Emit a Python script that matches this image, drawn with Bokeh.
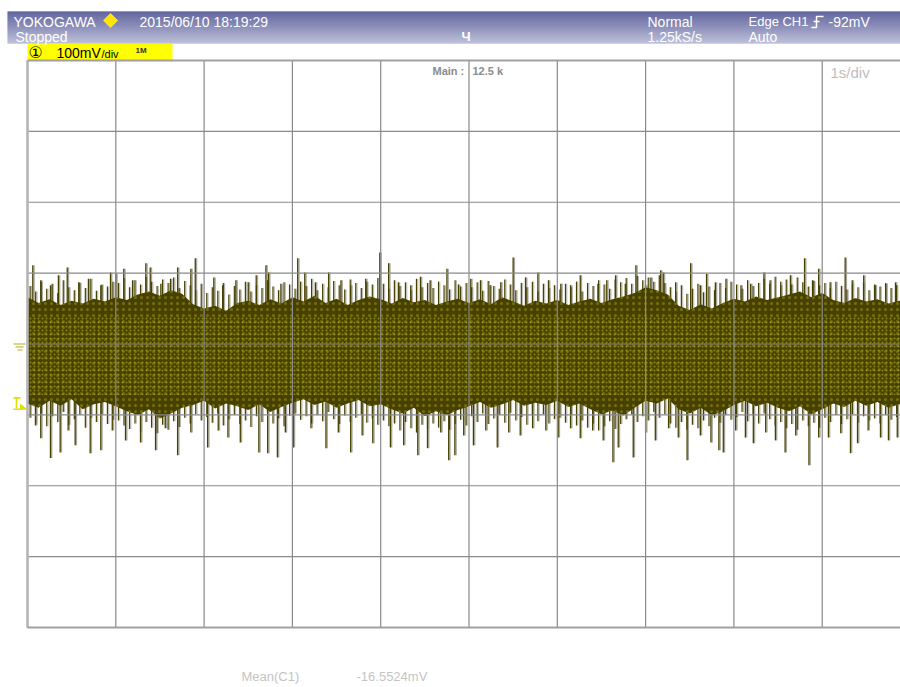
import numpy as np
from bokeh.plotting import figure
from bokeh.models import Label
from bokeh.embed import file_html
from bokeh.resources import INLINE

# ---------------- acquisition ----------------
MV_PER_DIV = 100.0
SEC_PER_DIV = 1.0
H_DIVS = 10
V_DIVS = 8
MEAN_MV = -16.5524
TRIG_LEVEL_MV = -92.0

grid_t = [0, 1, 2, 3, 4, 5, 6, 7, 8, 9, 10]
grid_v = [-400, -300, -200, -100, 0, 100, 200, 300, 400]

# dense body of the noise trace, sampled every 0.125 s (mV)
core_t = [i * 0.125 for i in range(81)]
core_hi = [66, 58, 63, 55, 61, 57, 64,
           60, 66, 62, 70, 74, 68, 76, 71,
           56, 50, 54, 47, 58,
           61, 55, 63, 57, 66,
           60, 68, 58, 64, 55, 62, 67,
           63, 57, 65, 59, 62, 55, 60, 64,
           58, 63, 56, 66, 60, 54, 61,
           57, 62, 55, 60, 64, 58, 63, 67,
           72, 80, 76, 70,
           54, 48, 56, 50, 58,
           64, 60, 67, 62, 66,
           70, 74, 66, 72,
           62, 58, 65, 60, 63, 57, 61, 60]
core_lo = [-84, -90, -80, -87, -78, -92, -85,
           -82, -88, -95, -100, -92, -105, -98, -90,
           -86, -80, -91, -84, -88,
           -93, -85, -96, -89, -83,
           -78, -86, -81, -90, -84, -79, -88,
           -85, -92, -98, -90, -102, -95, -100, -93,
           -88, -82, -90, -85, -79, -87, -83,
           -86, -80, -89, -84, -92, -99, -94, -101,
           -90, -80, -84, -77,
           -92, -98, -90, -101, -95,
           -86, -80, -88, -83, -90,
           -95, -88, -99, -92,
           -84, -89, -80, -87, -82, -90, -85, -88]

# short excursions just beyond the body, every 0.0625 s (mV)
grass_t = [0.03 + k * 0.0625 for k in range(158)]
grass_up = [82, 74, 88, 78, 85, 72, 90, 80, 76, 86, 79, 92, 75, 84, 81, 88,
            86, 93, 80, 90, 84, 95, 88, 82, 91, 86, 94, 79, 89, 83, 76, 85,
            72, 80, 75, 86, 70, 82, 77, 88, 74, 83, 79, 90, 81, 76, 87, 84,
            78, 88, 82, 92, 76, 85, 80, 89, 83, 77, 91, 86, 79, 88, 84, 93,
            85, 78, 90, 82, 87, 76, 92, 80, 86, 79, 88, 83, 77, 90, 81, 86,
            80, 87, 75, 89, 82, 78, 91, 84, 76, 86, 80, 88, 74, 85, 79, 83,
            77, 85, 80, 88, 74, 86, 82, 90, 84, 78, 91, 87, 93, 85, 96, 90,
            94, 88, 97, 86, 80, 74, 83, 71, 78, 85, 73, 81, 76, 86, 79, 88,
            84, 78, 90, 82, 86, 92, 85, 95, 88, 91, 84, 94, 87, 81, 89, 83,
            86, 79, 88, 82, 77, 85, 80, 87, 76, 84, 81, 86, 79, 83]
grass_dn = [-104, -112, -98, -116, -102, -110, -96, -114, -106, -100, -118, -104, -110, -99, -113, -107,
            -108, -115, -120, -112, -124, -110, -118, -126, -114, -121, -109, -117, -104, -112, -99, -108,
            -103, -111, -98, -115, -106, -100, -113, -108, -117, -102, -110, -97, -112, -105, -116, -101,
            -98, -107, -102, -112, -100, -109, -96, -106, -113, -101, -110, -104, -99, -111, -105, -114,
            -108, -116, -112, -122, -110, -119, -125, -114, -120, -112, -118, -109, -121, -113, -107, -115,
            -102, -110, -98, -113, -105, -100, -111, -97, -108, -103, -114, -101, -109, -99, -112, -106,
            -104, -111, -100, -115, -108, -118, -112, -122, -116, -109, -120, -113, -106, -99, -110, -102,
            -108, -96, -104, -99, -112, -118, -110, -121, -114, -119, -108, -116, -104, -111, -100, -107,
            -103, -96, -109, -101, -112, -98, -106, -115, -110, -119, -113, -121, -108, -116, -111, -118,
            -104, -110, -100, -113, -106, -99, -111, -102, -108, -105, -112, -100, -107, -103]

# positive noise peaks (s, mV)
spike_up_t = [0.06, 0.15, 0.26, 0.35, 0.45, 0.58, 0.69, 0.83, 0.94, 1.00, 1.09, 1.19,
              1.34, 1.39, 1.51, 1.62, 1.70, 1.85, 1.90, 2.11, 2.21, 2.36, 2.50, 2.59,
              2.70, 2.73, 2.87, 3.06, 3.14, 3.26, 3.41, 3.55, 3.66, 3.83, 3.99, 4.09,
              4.20, 4.34, 4.45, 4.56, 4.75, 4.88, 5.02, 5.13, 5.24, 5.36, 5.50, 5.64,
              5.78, 5.90, 6.04, 6.15, 6.26, 6.46, 6.56, 6.66, 6.77, 6.89, 7.00, 7.06,
              7.17, 7.20, 7.34, 7.51, 7.62, 7.69, 7.79, 7.91, 8.08, 8.19, 8.34, 8.41,
              8.53, 8.64, 8.80, 8.89, 8.96, 9.09, 9.26, 9.34, 9.47, 9.60, 9.72, 9.83]
spike_up_v = [111, 90, 83, 97, 108, 87, 92, 83, 101, 99, 106, 90,
              114, 108, 85, 92, 108, 106, 121, 94, 83, 90, 87, 97,
              111, 101, 85, 121, 101, 87, 101, 90, 83, 92, 129, 114,
              87, 83, 95, 90, 106, 84, 92, 90, 83, 87, 122, 94,
              101, 90, 85, 83, 97, 85, 90, 97, 85, 111, 83, 94,
              104, 101, 87, 114, 83, 99, 87, 92, 83, 85, 101, 90,
              83, 97, 121, 90, 106, 87, 122, 90, 97, 83, 85, 87]

# negative noise peaks (s, mV)
spike_dn_t = [0.09, 0.15, 0.26, 0.37, 0.46, 0.54, 0.71, 0.83, 0.96, 1.11, 1.28, 1.45,
              1.56, 1.70, 1.85, 2.04, 2.16, 2.27, 2.41, 2.62, 2.72, 2.83, 2.92, 3.01,
              3.21, 3.38, 3.52, 3.66, 3.79, 3.91, 4.11, 4.26, 4.42, 4.53, 4.68, 4.77,
              4.84, 4.94, 5.05, 5.19, 5.32, 5.45, 5.58, 5.72, 5.87, 6.01, 6.15, 6.26,
              6.40, 6.52, 6.63, 6.69, 6.86, 7.00, 7.11, 7.26, 7.37, 7.47, 7.62, 7.74,
              7.83, 7.88, 8.02, 8.13, 8.22, 8.36, 8.47, 8.58, 8.70, 8.85, 8.96, 9.07,
              9.21, 9.32, 9.40, 9.52, 9.66, 9.75, 9.85]
spike_dn_v = [-115, -133, -161, -153, -122, -143, -154, -150, -122, -136, -139, -150,
              -119, -157, -125, -146, -122, -132, -139, -153, -154, -160, -125, -146,
              -119, -147, -125, -153, -129, -140, -146, -143, -157, -147, -125, -164,
              -157, -129, -143, -122, -146, -125, -129, -119, -122, -132, -119, -133,
              -122, -136, -167, -146, -160, -125, -136, -119, -132, -164, -129, -139,
              -150, -153, -122, -132, -140, -125, -136, -153, -129, -171, -132, -132,
              -126, -154, -140, -122, -132, -136, -132]

SPECKLE_HI, SPECKLE_LO = 40, -72

# ---------------- screen layout (px) ----------------
W, H = 900, 687
LEFT_PX, TOP_PX = 27, 60
DIV_W_PX = 88.3
DIV_H_PX = 70.875
CENTER_PX = TOP_PX + V_DIVS / 2 * DIV_H_PX
PX_T = SEC_PER_DIV / DIV_W_PX   # seconds per screen pixel


def sx(px):
    return (px - LEFT_PX) / DIV_W_PX * SEC_PER_DIV


def sy(py):
    return (CENTER_PX - py) / DIV_H_PX * MV_PER_DIV


OLIVE = "#474100"
GREY_SPIKE = "#a6a69c"
GRID = "#8a8a8a"

p = figure(width=W, height=H, output_backend="svg", toolbar_location=None,
           x_range=(sx(0), sx(W)), y_range=(sy(H), sy(0)),
           min_border=0, min_border_left=0, min_border_right=0,
           min_border_top=0, min_border_bottom=0)
p.axis.visible = False
p.grid.visible = False
p.outline_line_color = None
p.background_fill_color = "white"
p.border_fill_color = "white"

# ---- header bar with vertical gradient ----
top_rgb = np.array([48, 52, 126])
bot_rgb = np.array([166, 169, 204])
rows = 32
lefts, rights, tops, bottoms, cols = [], [], [], [], []
for k in range(rows):
    f = k / (rows - 1)
    c = (top_rgb * (1 - f) + bot_rgb * f).astype(int)
    lefts.append(sx(7))
    rights.append(sx(W))
    tops.append(sy(11 + k))
    bottoms.append(sy(12 + k))
    cols.append("#%02x%02x%02x" % tuple(c))
p.quad(left=lefts, right=rights, top=tops, bottom=bottoms, fill_color=cols, line_color=None)


def label(px, py, text, color="white", size="14px", style="normal", font="Liberation Sans"):
    p.add_layout(Label(x=sx(px), y=sy(py), text=text, text_color=color, text_font=font,
                       text_font_size=size, text_font_style=style, text_baseline="top",
                       text_align="left"))


label(13, 13, "YOKOGAWA")
p.scatter(x=[sx(110)], y=[sy(20)], marker="square", angle=np.pi / 4, size=10,
          fill_color="#ffe600", line_color="#ffe600")
label(139, 13, "2015/06/10 18:19:29")
label(15, 28, "Stopped")
label(461, 28, "Ч", size="13px", style="bold")
label(647, 13, "Normal")
label(647, 28, "1.25kS/s")
label(748, 13, "Edge CH1", size="13px")
label(828, 13, "-92mV")
label(748, 28, "Auto")
# rising-edge trigger glyph
p.multi_line(xs=[[sx(811), sx(816), sx(816), sx(823)], [sx(813), sx(819)]],
             ys=[[sy(27), sy(27), sy(16), sy(16)], [sy(21), sy(21)]],
             line_color="white", line_width=1.5)

# channel badge
p.quad(left=[sx(27)], right=[sx(172)], top=[sy(43.5)], bottom=[sy(59.5)],
       fill_color="#ffff00", line_color=None)
label(28, 42, "①", color="black", size="16px", font="DejaVu Sans")
label(56, 44, "100mV", color="black", size="14px")
label(101, 47, "/div", color="black", size="11px")
label(135, 45, "1M", color="#333333", size="8px", style="bold")

# ---- trace ----
n_up, n_dn, n_g = len(spike_up_t), len(spike_dn_t), len(grass_t)
shift = 1.3 * PX_T
# light companions of the strokes
p.segment(x0=[t + shift for t in grass_t], y0=[MEAN_MV] * n_g,
          x1=[t + shift for t in grass_t], y1=grass_up,
          line_color=GREY_SPIKE, line_width=1.1, line_alpha=0.8)
p.segment(x0=[t + shift for t in grass_t], y0=[MEAN_MV] * n_g,
          x1=[t + shift for t in grass_t], y1=grass_dn,
          line_color=GREY_SPIKE, line_width=1.1, line_alpha=0.8)
p.segment(x0=[t + shift for t in spike_up_t], y0=[MEAN_MV] * n_up,
          x1=[t + shift for t in spike_up_t], y1=spike_up_v,
          line_color=GREY_SPIKE, line_width=1.3)
p.segment(x0=[t + shift for t in spike_dn_t], y0=[MEAN_MV] * n_dn,
          x1=[t + shift for t in spike_dn_t], y1=spike_dn_v,
          line_color=GREY_SPIKE, line_width=1.3)
# dark strokes
p.segment(x0=grass_t, y0=[MEAN_MV] * n_g, x1=grass_t, y1=grass_up,
          line_color=OLIVE, line_width=1.2)
p.segment(x0=grass_t, y0=[MEAN_MV] * n_g, x1=grass_t, y1=grass_dn,
          line_color=OLIVE, line_width=1.2)
p.segment(x0=spike_up_t, y0=[MEAN_MV] * n_up, x1=spike_up_t, y1=spike_up_v,
          line_color=OLIVE, line_width=1.3)
p.segment(x0=spike_dn_t, y0=[MEAN_MV] * n_dn, x1=spike_dn_t, y1=spike_dn_v,
          line_color=OLIVE, line_width=1.3)
p.varea(x=core_t, y1=core_lo, y2=core_hi, fill_color=OLIVE)
# yellow sample speckle
p.varea(x=core_t, y1=core_lo, y2=core_hi, fill_alpha=0, hatch_pattern="dot",
        hatch_color="#dede22", hatch_scale=6, hatch_weight=0.5, hatch_alpha=0.3)
p.varea(x=[core_t[0], core_t[-1]], y1=[SPECKLE_LO] * 2, y2=[SPECKLE_HI] * 2, fill_alpha=0,
        hatch_pattern="dot", hatch_color="#f4f42a", hatch_scale=4, hatch_weight=0.5,
        hatch_alpha=0.38)

# ---- graticule ----
p.segment(x0=grid_t, y0=[grid_v[0]] * len(grid_t), x1=grid_t, y1=[grid_v[-1]] * len(grid_t),
          line_color=GRID, line_width=1.2)
p.segment(x0=[grid_t[0]] * len(grid_v), y0=grid_v, x1=[grid_t[-1]] * len(grid_v), y1=grid_v,
          line_color=GRID, line_width=1.2)
p.segment(x0=[0], y0=[grid_v[0]], x1=[0], y1=[grid_v[-1]], line_color="#b4b4b4", line_width=2.5)
p.segment(x0=[0, 0], y0=[grid_v[0], grid_v[-1]], x1=[grid_t[-1]] * 2,
          y1=[grid_v[0], grid_v[-1]], line_color="#a0a0a0", line_width=2)

# ground reference and trigger level markers
gnd_x = [sx(13), sx(15), sx(17)]
gnd_x1 = [sx(25), sx(23), sx(22)]
gnd_y = [0, sy(CENTER_PX + 3), sy(CENTER_PX + 6)]
p.segment(x0=gnd_x, y0=gnd_y, x1=gnd_x1, y1=gnd_y, line_color="#cfc85a", line_width=1.5)
trig_py = CENTER_PX - TRIG_LEVEL_MV / MV_PER_DIV * DIV_H_PX
p.multi_line(xs=[[sx(16), sx(16)], [sx(13), sx(20)], [sx(13), sx(21)]],
             ys=[[TRIG_LEVEL_MV + 17, TRIG_LEVEL_MV + 1], [TRIG_LEVEL_MV + 16] * 2,
                 [TRIG_LEVEL_MV] * 2],
             line_color="#e0e000", line_width=1.6)
p.patch(x=[sx(20), sx(26), sx(20)], y=[sy(trig_py - 5), TRIG_LEVEL_MV, TRIG_LEVEL_MV],
        fill_color="#e0e000", line_color="#e0e000")

# ---- readouts ----
label(432, 64, "Main :", color="#8c8c8c", size="11px", style="bold")
label(472, 64, "12.5 k", color="#8c8c8c", size="11px", style="bold")
label(830, 63, "1s/div", color="#bdbdbd", size="15px")
label(241, 668, "Mean(C1)", color="#c4c4c4", size="13px")
label(356, 668, "%.4fmV" % MEAN_MV, color="#c4c4c4", size="13px")

open("out.html", "w").write(file_html(p, INLINE))
